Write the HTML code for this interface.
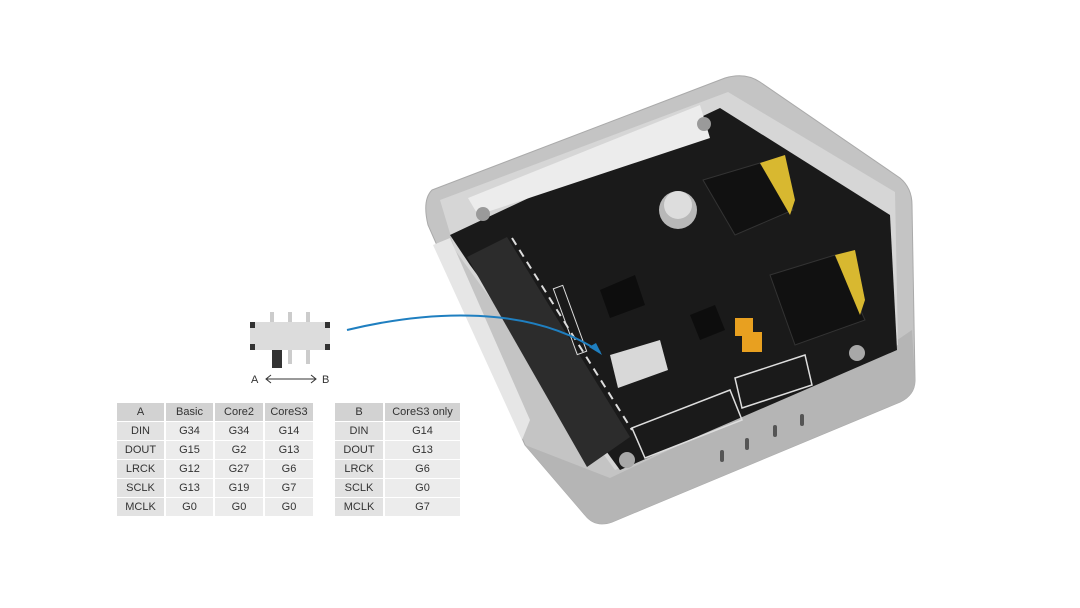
<!DOCTYPE html>
<html><head><style>
body{margin:0;width:1080px;height:608px;background:#fff;position:relative;overflow:hidden;font-family:"Liberation Sans",sans-serif}
.c{position:absolute;height:18px;line-height:18px;font-size:11px;text-align:center;color:#333;background:#ececec}
.h{background:#d2d2d2}
.f{background:#e2e2e2}
</style></head><body>
<svg width="1080" height="608" style="position:absolute;left:0;top:0">
<!-- case -->
<path d="M432,190 L725,78 Q745,72 760,82 L900,178 Q912,188 912,205 L915,380 Q915,395 900,402 L612,522 Q595,528 585,515 L525,445 L428,225 Q422,200 432,190 Z" fill="#c4c4c4" stroke="#aaa"/>
<path d="M525,445 L585,515 Q595,528 612,522 L900,402 Q915,395 915,380 L912,330 L890,345 L610,478 Z" fill="#b5b5b5"/>
<polygon points="433,245 450,238 530,420 522,440" fill="#e6e6e6"/>
<path d="M440,200 L728,92 L895,192 L898,345 L615,470 L455,250 Z" fill="#d6d6d6"/>
<!-- PCB -->
<polygon points="450,235 720,108 890,215 897,350 620,470 470,265" fill="#1a1a1a"/>
<!-- white bar -->
<polygon points="468,198 700,105 710,138 478,215" fill="#ececec"/>
<circle cx="483" cy="214" r="7" fill="#9a9a9a"/><circle cx="704" cy="124" r="7" fill="#9a9a9a"/>
<circle cx="857" cy="353" r="8" fill="#a8a8a8"/><circle cx="627" cy="460" r="8" fill="#a8a8a8"/>
<!-- header -->
<polygon points="467,257 507,237 630,437 587,467" fill="#2c2c2c"/>
<line x1="512" y1="238" x2="632" y2="430" stroke="#ddd" stroke-width="2" stroke-dasharray="8,6"/>
<!-- jacks -->
<polygon points="703,180 760,163 793,210 735,235" fill="#111" stroke="#333"/>
<polygon points="760,163 785,155 795,200 790,215" fill="#d8b830"/>
<polygon points="770,275 835,255 865,320 795,345" fill="#111" stroke="#333"/>
<polygon points="835,255 855,250 865,300 860,315" fill="#d8b830"/>
<!-- cap -->
<circle cx="678" cy="210" r="19" fill="#b8b8b8"/><circle cx="678" cy="205" r="14" fill="#ddd"/>
<!-- chips -->
<polygon points="600,290 635,275 645,305 610,318" fill="#0d0d0d"/>
<polygon points="690,315 715,305 725,330 700,340" fill="#0d0d0d"/>
<rect x="735" y="318" width="18" height="18" fill="#e8a020"/><rect x="742" y="332" width="20" height="20" fill="#e8a020"/>
<!-- switch -->
<polygon points="610,355 660,340 668,370 618,388" fill="#d8d8d8"/>
<rect x="565" y="285" width="10" height="70" fill="none" stroke="#ddd" transform="rotate(-20 570 320)"/>
<!-- silk tables -->
<polygon points="632,428 730,390 742,420 645,458" fill="none" stroke="#ddd" stroke-width="1.5"/>
<polygon points="735,378 805,355 812,385 742,408" fill="none" stroke="#ddd" stroke-width="1.5"/>
<!-- vents -->
<rect x="720" y="450" width="4" height="12" rx="2" fill="#555"/><rect x="745" y="438" width="4" height="12" rx="2" fill="#555"/><rect x="773" y="425" width="4" height="12" rx="2" fill="#555"/><rect x="800" y="414" width="4" height="12" rx="2" fill="#555"/>
<!-- arrow -->
<path d="M347,330 C430,310 530,305 600,352" stroke="#1f7fc0" stroke-width="2" fill="none"/>
<polygon points="602,355 589,347 596,343" fill="#1f7fc0"/>
<!-- switch icon -->
<rect x="250" y="322" width="80" height="28" fill="#dcdcdc"/>
<rect x="250" y="322" width="5" height="6" fill="#333"/><rect x="325" y="322" width="5" height="6" fill="#333"/>
<rect x="250" y="344" width="5" height="6" fill="#333"/><rect x="325" y="344" width="5" height="6" fill="#333"/>
<rect x="270" y="312" width="4" height="10" fill="#ccc"/><rect x="288" y="312" width="4" height="10" fill="#ccc"/><rect x="306" y="312" width="4" height="10" fill="#ccc"/>
<rect x="272" y="350" width="10" height="18" fill="#333"/><rect x="288" y="350" width="4" height="14" fill="#ccc"/><rect x="306" y="350" width="4" height="14" fill="#ccc"/>
<text x="251" y="383" font-size="11" fill="#333" font-family="Liberation Sans">A</text>
<text x="322" y="383" font-size="11" fill="#333" font-family="Liberation Sans">B</text>
<line x1="266" y1="379" x2="316" y2="379" stroke="#333"/>
<polyline points="271,375 266,379 271,383" stroke="#333" fill="none"/>
<polyline points="311,375 316,379 311,383" stroke="#333" fill="none"/>
</svg>
<div class="c h" style="left:117px;top:403px;width:47px">A</div>
<div class="c h" style="left:166px;top:403px;width:47px">Basic</div>
<div class="c h" style="left:215px;top:403px;width:48px">Core2</div>
<div class="c h" style="left:265px;top:403px;width:48px">CoreS3</div>
<div class="c f" style="left:117px;top:422px;width:47px">DIN</div><div class="c" style="left:166px;top:422px;width:47px">G34</div><div class="c" style="left:215px;top:422px;width:48px">G34</div><div class="c" style="left:265px;top:422px;width:48px">G14</div>
<div class="c f" style="left:117px;top:441px;width:47px">DOUT</div><div class="c" style="left:166px;top:441px;width:47px">G15</div><div class="c" style="left:215px;top:441px;width:48px">G2</div><div class="c" style="left:265px;top:441px;width:48px">G13</div>
<div class="c f" style="left:117px;top:460px;width:47px">LRCK</div><div class="c" style="left:166px;top:460px;width:47px">G12</div><div class="c" style="left:215px;top:460px;width:48px">G27</div><div class="c" style="left:265px;top:460px;width:48px">G6</div>
<div class="c f" style="left:117px;top:479px;width:47px">SCLK</div><div class="c" style="left:166px;top:479px;width:47px">G13</div><div class="c" style="left:215px;top:479px;width:48px">G19</div><div class="c" style="left:265px;top:479px;width:48px">G7</div>
<div class="c f" style="left:117px;top:498px;width:47px">MCLK</div><div class="c" style="left:166px;top:498px;width:47px">G0</div><div class="c" style="left:215px;top:498px;width:48px">G0</div><div class="c" style="left:265px;top:498px;width:48px">G0</div>
<div class="c h" style="left:335px;top:403px;width:48px">B</div><div class="c h" style="left:385px;top:403px;width:75px">CoreS3 only</div>
<div class="c f" style="left:335px;top:422px;width:48px">DIN</div><div class="c" style="left:385px;top:422px;width:75px">G14</div>
<div class="c f" style="left:335px;top:441px;width:48px">DOUT</div><div class="c" style="left:385px;top:441px;width:75px">G13</div>
<div class="c f" style="left:335px;top:460px;width:48px">LRCK</div><div class="c" style="left:385px;top:460px;width:75px">G6</div>
<div class="c f" style="left:335px;top:479px;width:48px">SCLK</div><div class="c" style="left:385px;top:479px;width:75px">G0</div>
<div class="c f" style="left:335px;top:498px;width:48px">MCLK</div><div class="c" style="left:385px;top:498px;width:75px">G7</div>
</body></html>
